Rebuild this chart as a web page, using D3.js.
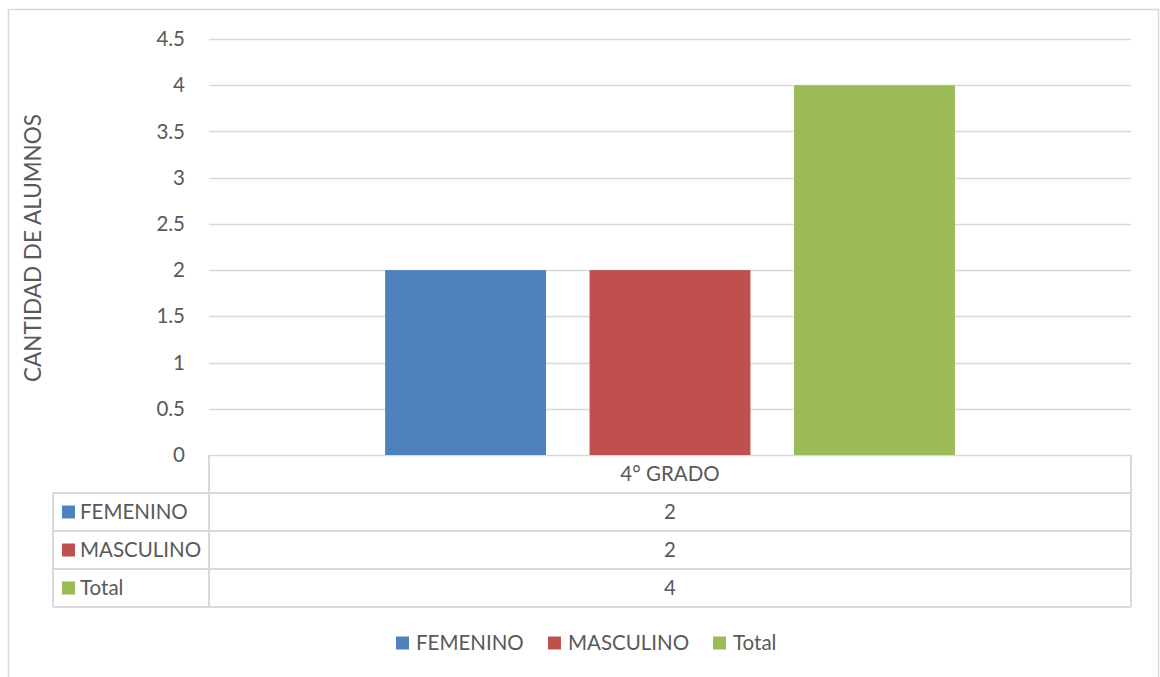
<!DOCTYPE html>
<html>
<head>
<meta charset="utf-8">
<script src="https://cdn.jsdelivr.net/npm/d3@7"></script>
<style>
  body { margin: 0; background: #fff; }
  svg text { font-family: Lato, "Open Sans", sans-serif; fill: #595959; }
</style>
</head>
<body>
<div id="chart"></div>
<script>
// datos del gráfico
const categories = ["4° GRADO"];
const seriesNames = ["FEMENINO", "MASCULINO", "Total"];
const seriesValues = [[2], [2], [4]];
const seriesColors = ["#4F81BD", "#C0504D", "#9BBB59"];
const yTicks = [0, 0.5, 1, 1.5, 2, 2.5, 3, 3.5, 4, 4.5];
const yLabel = "CANTIDAD DE ALUMNOS";

const width = 1160, height = 677;
const plot = { left: 209, right: 1131, top: 39, bottom: 455 };
const rowH = 38;
const tableLeft = 53;
const gridColor = "#d9d9d9";
const fontSize = "20.5px";

const svg = d3.select("#chart")
  .append("svg")
  .attr("width", width)
  .attr("height", height);

// borde exterior
svg.append("rect")
  .attr("x", 8.5).attr("y", 9.5)
  .attr("width", 1150).attr("height", 700)
  .attr("fill", "none")
  .attr("stroke", gridColor)
  .attr("stroke-width", 1.5);

// escalas
const y = d3.scaleLinear()
  .domain([0, 4.5])
  .range([plot.bottom, plot.top]);

const x0 = d3.scaleBand()
  .domain(categories)
  .range([plot.left, plot.right]);

const x1 = d3.scaleBand()
  .domain(seriesNames)
  .range([x0.bandwidth() * 0.191, x0.bandwidth() * 0.809])
  .paddingInner(0.213);

// líneas de cuadrícula
svg.append("g")
  .selectAll("line")
  .data(yTicks)
  .enter()
  .append("line")
  .attr("x1", plot.left)
  .attr("x2", plot.right)
  .attr("y1", d => Math.round(y(d)) + 0.5)
  .attr("y2", d => Math.round(y(d)) + 0.5)
  .attr("stroke", gridColor)
  .attr("stroke-width", 1.5);

// etiquetas del eje y
const yAxis = d3.axisLeft(y)
  .tickValues(yTicks)
  .tickSize(0)
  .tickPadding(24)
  .tickFormat(d => d3.format("")(d));

const gy = svg.append("g")
  .attr("transform", `translate(${plot.left},0)`)
  .call(yAxis);
gy.select(".domain").remove();
gy.selectAll("text")
  .style("font-size", fontSize)
  .attr("fill", "#595959");

// título del eje y
svg.append("text")
  .attr("transform", "translate(41,248) rotate(-90)")
  .attr("text-anchor", "middle")
  .style("font-size", "22.5px")
  .text(yLabel);

// barras
const groups = svg.append("g")
  .selectAll("g")
  .data(categories)
  .enter()
  .append("g")
  .attr("transform", d => `translate(${x0(d)},0)`);

groups.selectAll("rect")
  .data((d, ci) => seriesNames.map((s, si) => ({ s, si, v: seriesValues[si][ci] })))
  .enter()
  .append("rect")
  .attr("x", d => x1(d.s))
  .attr("y", d => y(d.v))
  .attr("width", x1.bandwidth())
  .attr("height", d => y(0) - y(d.v))
  .attr("fill", d => seriesColors[d.si]);

// tabla de datos
const table = svg.append("g");
const rowsBottom = plot.bottom + rowH * (seriesNames.length + 1);

// líneas horizontales
table.selectAll("line.h")
  .data(d3.range(seriesNames.length + 1))
  .enter()
  .append("line")
  .attr("class", "h")
  .attr("x1", tableLeft)
  .attr("x2", plot.right)
  .attr("y1", i => plot.bottom + rowH * (i + 1))
  .attr("y2", i => plot.bottom + rowH * (i + 1))
  .attr("stroke", gridColor)
  .attr("stroke-width", 2);

// líneas verticales
const vLines = [
  [plot.left, plot.bottom, rowsBottom],
  [plot.right, plot.bottom, rowsBottom],
  [tableLeft, plot.bottom + rowH, rowsBottom]
];
table.selectAll("line.v")
  .data(vLines)
  .enter()
  .append("line")
  .attr("class", "v")
  .attr("x1", d => d[0]).attr("x2", d => d[0])
  .attr("y1", d => d[1]).attr("y2", d => d[2])
  .attr("stroke", gridColor)
  .attr("stroke-width", 2);

// encabezado de categoría
table.selectAll("text.cat")
  .data(categories)
  .enter()
  .append("text")
  .attr("class", "cat")
  .attr("x", d => x0(d) + x0.bandwidth() / 2)
  .attr("y", plot.bottom + rowH / 2)
  .attr("dy", "0.35em")
  .attr("text-anchor", "middle")
  .style("font-size", fontSize)
  .text(d => d);

// filas de series
const rows = table.selectAll("g.row")
  .data(seriesNames)
  .enter()
  .append("g")
  .attr("class", "row")
  .attr("transform", (d, i) => `translate(0,${plot.bottom + rowH * (i + 1) + rowH / 2})`);

rows.append("rect")
  .attr("x", 62)
  .attr("y", -6.5)
  .attr("width", 13)
  .attr("height", 13)
  .attr("fill", (d, i) => seriesColors[i]);

rows.append("text")
  .attr("x", 80)
  .attr("dy", "0.35em")
  .style("font-size", fontSize)
  .text(d => d);

rows.selectAll("text.val")
  .data((d, i) => categories.map((c, ci) => ({ c, v: seriesValues[i][ci] })))
  .enter()
  .append("text")
  .attr("class", "val")
  .attr("x", d => x0(d.c) + x0.bandwidth() / 2)
  .attr("dy", "0.35em")
  .attr("text-anchor", "middle")
  .style("font-size", fontSize)
  .text(d => d.v);

// leyenda inferior
const legendX = [396, 548, 713];
const legend = svg.append("g")
  .selectAll("g")
  .data(seriesNames)
  .enter()
  .append("g")
  .attr("transform", (d, i) => `translate(${legendX[i]},643)`);

legend.append("rect")
  .attr("x", 0)
  .attr("y", -6.5)
  .attr("width", 13)
  .attr("height", 13)
  .attr("fill", (d, i) => seriesColors[i]);

legend.append("text")
  .attr("x", 20)
  .attr("dy", "0.35em")
  .style("font-size", fontSize)
  .text(d => d);
</script>
</body>
</html>
